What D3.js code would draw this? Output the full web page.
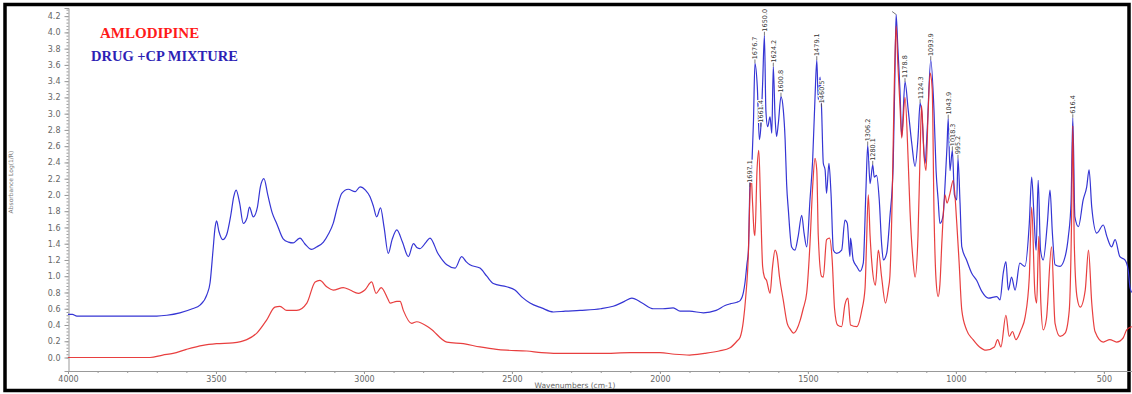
<!DOCTYPE html>
<html>
<head>
<meta charset="utf-8">
<script src="https://d3js.org/d3.v7.min.js"></script>
<style>
  body { margin: 0; background: #fff; }
  .axis text { fill: #666; font-family: "DejaVu Sans", sans-serif; font-size: 8px; }
  .axis path, .axis line { stroke: #999; }
</style>
</head>
<body>
<svg id="chart" width="1132" height="394"></svg>
<script>
// [wavenumber cm-1, absorbance]
const amlodipine = [
  [4000,0.0],[3723,0.0],[3680,0.03],[3645,0.05],[3600,0.10],[3544,0.15],[3498,0.17],[3443,0.18],
  [3396,0.22],[3362,0.30],[3329,0.46],[3301,0.62],[3284,0.63],[3261,0.58],[3227,0.58],[3193,0.67],
  [3165,0.93],[3149,0.95],[3126,0.87],[3104,0.83],[3070,0.86],[3047,0.83],[3019,0.79],[2997,0.83],
  [2974,0.93],[2959,0.79],[2942,0.86],[2918,0.71],[2912,0.67],[2889,0.69],[2878,0.69],[2867,0.58],
  [2839,0.42],[2822,0.44],[2777,0.36],[2720,0.19],[2664,0.17],[2608,0.13],[2552,0.10],[2518,0.09],
  [2450,0.08],[2400,0.06],[2350,0.05],[2300,0.05],[2200,0.05],[2100,0.06],[2050,0.06],[2000,0.06],
  [1950,0.04],[1900,0.03],[1850,0.05],[1800,0.08],[1763,0.12],[1740,0.20],[1729,0.25],[1718,0.45],
  [1710,0.75],[1701,1.30],[1696,2.00],[1692,2.25],[1687,1.90],[1682,1.55],[1679,1.50],[1672,2.30],
  [1666,2.55],[1660,1.90],[1653,1.12],[1647,0.99],[1640,0.95],[1628,0.79],[1620,1.10],[1611,1.32],
  [1604,1.25],[1596,0.99],[1583,0.70],[1570,0.42],[1560,0.35],[1548,0.30],[1537,0.35],[1526,0.46],
  [1516,0.60],[1504,0.80],[1493,1.40],[1484,2.10],[1476,2.45],[1470,2.30],[1465,1.50],[1454,1.00],
  [1448,0.99],[1437,1.45],[1427,1.47],[1418,1.20],[1410,0.60],[1400,0.40],[1386,0.38],[1375,0.65],
  [1365,0.73],[1356,0.40],[1335,0.38],[1318,0.58],[1307,0.85],[1302,1.40],[1296,2.00],[1290,1.50],
  [1283,1.12],[1272,0.89],[1262,1.32],[1251,0.99],[1238,0.67],[1228,0.85],[1223,1.00],[1215,2.00],
  [1209,3.20],[1202,4.08],[1196,3.60],[1189,3.10],[1183,2.70],[1172,3.20],[1161,2.40],[1155,1.80],
  [1145,1.20],[1138,0.99],[1128,1.50],[1121,2.50],[1116,3.10],[1108,2.50],[1101,2.30],[1094,3.00],
  [1087,3.50],[1080,3.30],[1074,1.80],[1067,0.95],[1060,0.75],[1054,0.90],[1047,1.45],[1037,2.00],
  [1030,1.90],[1020,2.02],[1009,2.18],[997,1.65],[989,1.16],[980,0.58],[964,0.34],[942,0.22],
  [920,0.13],[898,0.09],[870,0.13],[859,0.22],[848,0.13],[831,0.52],[820,0.26],[809,0.32],
  [797,0.22],[780,0.34],[766,0.50],[752,0.99],[744,1.85],[733,0.79],[727,0.67],[720,1.49],
  [713,0.67],[705,0.34],[694,0.48],[677,1.36],[665,0.42],[648,0.26],[631,0.30],[617,0.58],
  [609,1.73],[605,2.85],[600,1.40],[591,0.75],[580,0.62],[563,0.83],[552,1.32],[541,0.67],
  [530,0.32],[502,0.19],[480,0.22],[457,0.19],[435,0.24],[423,0.34],[406,0.38]
];

const mixture = [
  [4000,0.53],[3985,0.53],[3970,0.51],[3900,0.51],[3800,0.51],[3700,0.51],[3666,0.52],[3622,0.55],
  [3580,0.60],[3554,0.645],[3530,0.78],[3520,0.92],[3510,1.32],[3503,1.60],[3498,1.68],[3490,1.55],
  [3477,1.45],[3464,1.51],[3450,1.75],[3440,1.98],[3432,2.06],[3420,1.90],[3408,1.65],[3395,1.72],
  [3387,1.85],[3374,1.73],[3360,1.85],[3350,2.10],[3338,2.20],[3325,2.00],[3310,1.78],[3295,1.65],
  [3273,1.46],[3255,1.42],[3239,1.41],[3225,1.45],[3216,1.47],[3200,1.40],[3177,1.33],[3160,1.36],
  [3137,1.42],[3120,1.52],[3104,1.65],[3090,1.85],[3075,2.02],[3053,2.07],[3030,2.04],[3013,2.10],
  [2995,2.06],[2980,1.98],[2968,1.86],[2957,1.73],[2944,1.84],[2932,1.60],[2918,1.28],[2905,1.45],
  [2889,1.57],[2870,1.42],[2850,1.24],[2833,1.40],[2820,1.35],[2811,1.34],[2790,1.42],[2777,1.47],
  [2750,1.28],[2720,1.14],[2692,1.10],[2670,1.24],[2655,1.18],[2642,1.14],[2608,1.10],[2585,1.00],
  [2563,0.91],[2518,0.87],[2490,0.83],[2465,0.74],[2439,0.67],[2400,0.61],[2360,0.56],[2320,0.57],
  [2270,0.58],[2200,0.60],[2158,0.63],[2120,0.69],[2095,0.73],[2060,0.67],[2022,0.60],[1990,0.60],
  [1955,0.61],[1932,0.57],[1900,0.57],[1853,0.55],[1810,0.58],[1780,0.64],[1763,0.66],[1740,0.68],
  [1729,0.70],[1718,0.80],[1713,0.91],[1706,1.15],[1701,1.32],[1696,2.10],[1689,2.40],[1684,2.90],
  [1679,3.62],[1671,3.33],[1664,2.68],[1659,2.84],[1653,3.37],[1647,3.96],[1642,3.04],[1636,2.84],
  [1628,2.96],[1622,2.76],[1617,3.58],[1611,2.96],[1606,2.72],[1600,2.88],[1591,3.21],[1583,3.04],
  [1577,2.68],[1572,2.14],[1566,1.81],[1555,1.36],[1544,1.32],[1533,1.49],[1521,1.75],[1513,1.53],
  [1504,1.36],[1493,1.94],[1484,2.43],[1476,3.20],[1470,3.66],[1465,3.17],[1459,3.45],[1454,3.08],
  [1448,2.39],[1442,2.31],[1437,2.02],[1429,2.39],[1422,2.02],[1414,1.32],[1403,1.28],[1386,1.32],
  [1375,1.69],[1367,1.65],[1358,1.24],[1356,1.47],[1347,1.20],[1335,1.12],[1324,1.06],[1313,1.16],
  [1304,2.06],[1298,2.61],[1290,2.14],[1281,2.37],[1276,2.22],[1268,2.24],[1259,1.94],[1251,1.40],
  [1245,1.20],[1234,1.28],[1223,1.73],[1212,2.35],[1206,3.50],[1202,4.22],[1196,3.80],[1189,3.29],
  [1183,2.72],[1172,3.39],[1161,3.04],[1149,2.63],[1138,2.35],[1128,2.70],[1121,3.13],[1116,3.04],
  [1104,2.39],[1097,2.80],[1085,3.66],[1074,3.04],[1067,2.30],[1060,1.94],[1054,1.65],[1043,1.75],
  [1037,2.10],[1030,2.60],[1026,2.94],[1020,2.30],[1012,2.55],[1005,2.00],[997,1.94],[993,2.45],
  [986,1.90],[980,1.36],[964,1.20],[947,1.04],[930,0.95],[912,0.81],[890,0.73],[862,0.75],
  [851,0.71],[840,1.04],[831,1.18],[823,0.83],[812,0.99],[800,0.83],[784,1.16],[767,1.12],
  [752,1.65],[744,2.22],[736,1.73],[729,1.32],[722,2.18],[714,1.32],[705,1.20],[691,1.65],
  [682,2.06],[674,1.53],[665,1.14],[648,1.12],[631,1.24],[620,1.49],[611,1.90],[605,2.95],
  [598,1.73],[586,1.61],[570,1.94],[558,2.10],[550,2.31],[541,1.85],[524,1.53],[502,1.63],
  [490,1.49],[474,1.36],[462,1.45],[446,1.24],[429,1.20],[418,1.08],[412,0.87],[406,0.80]
];

// peak labels on the mixture trace
const peakWn   = [1696, 1679, 1659, 1647, 1617, 1591, 1470, 1454, 1298, 1281, 1172, 1121, 1085, 1026, 1012, 993, 605];
const peakAbs  = [2.10, 3.62, 2.84, 3.96, 3.58, 3.21, 3.66, 3.08, 2.61, 2.37, 3.39, 3.13, 3.66, 2.94, 2.55, 2.45, 2.95];
const peakText = ["1697.1","1676.7","1661.4","1650.0","1624.2","1600.8","1479.1","1460.5","1306.2","1280.1",
                  "1178.8","1124.3","1093.9","1043.9","1018.3","995.2","616.4"];
// the top peak only shows its leader, its label runs off the plot
const topPeak = [1202, 4.22];

const xTickValues = [4000, 3500, 3000, 2500, 2000, 1500, 1000, 500];
const yTickValues = [0.0,0.2,0.4,0.6,0.8,1.0,1.2,1.4,1.6,1.8,2.0,2.2,2.4,2.6,2.8,3.0,3.2,3.4,3.6,3.8,4.0,4.2];
const seriesNames = ["AMLODIPINE", "DRUG +CP MIXTURE"];

const svg = d3.select("#chart");

const x = d3.scaleLinear().domain([4000, 405]).range([68, 1132]);
const y = d3.scaleLinear().domain([-0.166, 4.3]).range([371, 8]);

// frame
svg.append("rect")
  .attr("x", 5).attr("y", 4.5).attr("width", 1124).attr("height", 386)
  .attr("fill", "none").attr("stroke", "#000").attr("stroke-width", 3.5);

svg.append("defs").append("clipPath").attr("id", "plot")
  .append("rect").attr("x", 68).attr("y", 9).attr("width", 1064).attr("height", 362);

// y axis with ruler-like minor ticks
svg.append("g")
  .attr("class", "axis")
  .attr("transform", "translate(68.5,0)")
  .call(d3.axisLeft(y).tickValues(d3.range(0, 4.301, 0.04)).tickSize(2).tickFormat(""))
  .call(g => g.select(".domain").remove());

svg.append("g")
  .attr("class", "axis")
  .attr("transform", "translate(68.5,0)")
  .call(d3.axisLeft(y).tickValues(yTickValues).tickSize(4).tickPadding(4).tickFormat(d3.format(".1f")));

// x axis
svg.append("g")
  .attr("class", "axis")
  .attr("transform", "translate(0,371)")
  .call(d3.axisBottom(x).tickValues(d3.range(4000, 400, -100)).tickSize(2).tickFormat(""));

svg.append("g")
  .attr("class", "axis")
  .attr("transform", "translate(0,371)")
  .call(d3.axisBottom(x).tickValues(xTickValues).tickSize(3).tickPadding(2).tickFormat(d3.format("d")));

svg.append("text")
  .attr("x", 575).attr("y", 387.5)
  .attr("text-anchor", "middle")
  .attr("fill", "#666")
  .style("font-family", "DejaVu Sans, sans-serif")
  .style("font-size", "7.5px")
  .text("Wavenumbers (cm-1)");

svg.append("text")
  .attr("transform", "translate(13,182) rotate(-90)")
  .attr("text-anchor", "middle")
  .attr("fill", "#777")
  .style("font-family", "DejaVu Sans, sans-serif")
  .style("font-size", "6px")
  .text("Absorbance Log(1/R)");

// spectra
const line = d3.line()
  .x(d => x(d[0]))
  .y(d => y(d[1]))
  .curve(d3.curveMonotoneX);

const plot = svg.append("g").attr("clip-path", "url(#plot)");

plot.append("path")
  .datum(mixture)
  .attr("fill", "none")
  .attr("stroke", "#3535d4")
  .attr("stroke-width", 1.2)
  .attr("d", line);

plot.append("path")
  .datum(amlodipine)
  .attr("fill", "none")
  .attr("stroke", "#e62a2a")
  .attr("stroke-width", 1.2)
  .attr("stroke-opacity", 0.9)
  .attr("d", line);

// peak annotations
const peaks = peakWn.map((w, i) => ({ w: w, v: peakAbs[i], t: peakText[i] }));

const ann = plot.append("g").selectAll("g").data(peaks).enter().append("g");

ann.append("line")
  .attr("x1", d => x(d.w)).attr("x2", d => x(d.w))
  .attr("y1", d => y(d.v)).attr("y2", d => y(d.v) - 4)
  .attr("stroke", "#555").attr("stroke-width", 0.8);

ann.append("text")
  .attr("transform", d => "translate(" + (x(d.w) + 2.5) + "," + (y(d.v) - 4) + ") rotate(-90)")
  .attr("fill", "#333")
  .attr("stroke", "#fff")
  .attr("stroke-width", 2)
  .attr("paint-order", "stroke")
  .style("font-family", "DejaVu Sans, sans-serif")
  .style("font-size", "6.5px")
  .text(d => d.t);

plot.append("line")
  .attr("x1", x(topPeak[0])).attr("x2", x(topPeak[0]) - 4)
  .attr("y1", y(topPeak[1])).attr("y2", y(topPeak[1]) - 3)
  .attr("stroke", "#555").attr("stroke-width", 0.8);

// legend
svg.append("text")
  .attr("x", 100).attr("y", 38)
  .attr("fill", "#ff1a1a")
  .style("font-family", "Liberation Serif, serif")
  .style("font-weight", "bold")
  .style("font-size", "15px")
  .text(seriesNames[0]);

svg.append("text")
  .attr("x", 91).attr("y", 61)
  .attr("fill", "#2d1fb5")
  .style("font-family", "Liberation Serif, serif")
  .style("font-weight", "bold")
  .style("font-size", "14.5px")
  .text(seriesNames[1]);
</script>
</body>
</html>
